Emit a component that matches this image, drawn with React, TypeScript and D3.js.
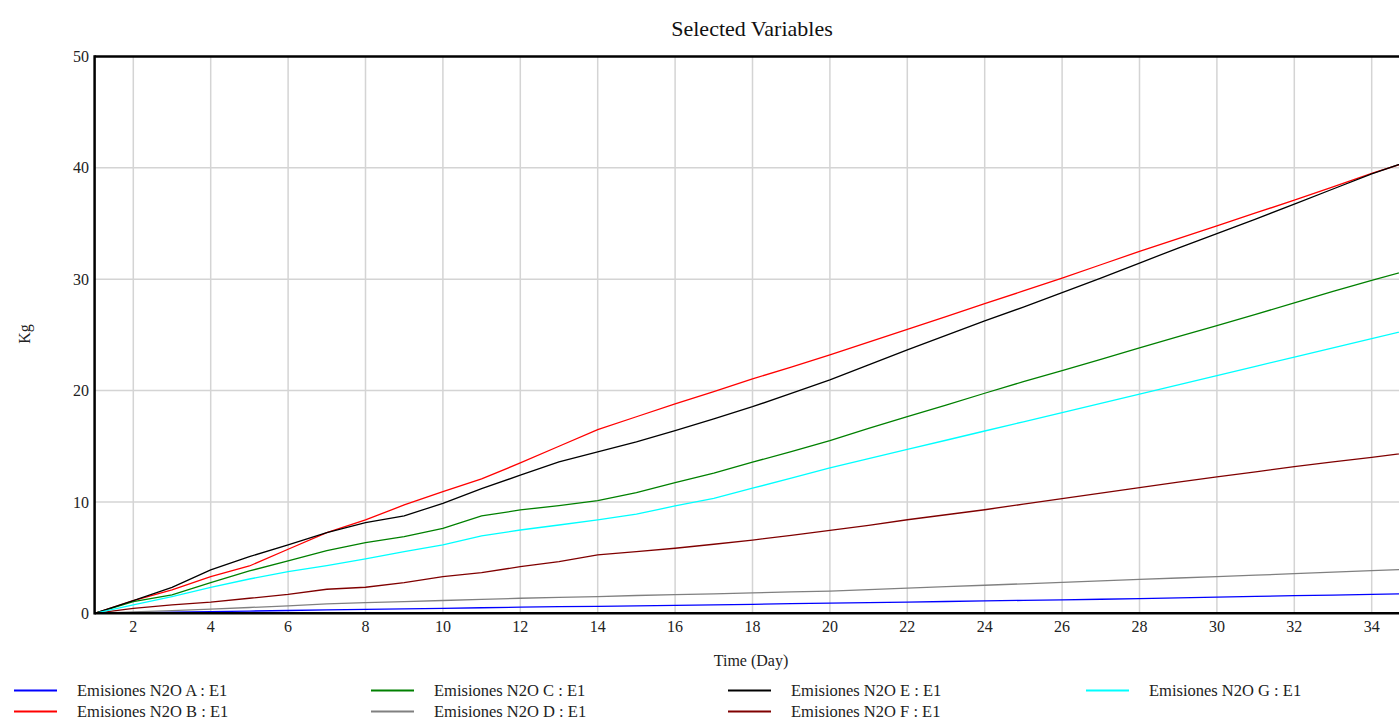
import React from "react";
import * as d3 from "d3";

// Simulation output, one value per day (day 1 .. 35), in Kg
const days: number[] = d3.range(1, 36);

const emisionesA: number[] = [
  0, 0.05, 0.1, 0.15, 0.2, 0.25, 0.3, 0.35, 0.4, 0.45, 0.5, 0.55, 0.6, 0.63, 0.66,
  0.71, 0.76, 0.81, 0.86, 0.91, 0.96, 1.01, 1.06, 1.11, 1.16, 1.21, 1.26, 1.31,
  1.38, 1.46, 1.52, 1.58, 1.64, 1.7, 1.76,
];
const emisionesB: number[] = [
  0, 1.14, 2.1, 3.3, 4.25, 5.75, 7.25, 8.38, 9.73, 10.93, 12.07, 13.5, 15.0, 16.5,
  17.65, 18.8, 19.9, 21.05, 22.1, 23.2, 24.35, 25.5, 26.65, 27.8, 28.95, 30.1,
  31.3, 32.5, 33.65, 34.8, 35.95, 37.1, 38.3, 39.5, 40.6,
];
const emisionesC: number[] = [
  0, 1.05, 1.65, 2.75, 3.8, 4.7, 5.63, 6.35, 6.89, 7.63, 8.74, 9.28, 9.67, 10.12,
  10.84, 11.74, 12.58, 13.57, 14.52, 15.5, 16.6, 17.66, 18.7, 19.76, 20.8, 21.8,
  22.8, 23.84, 24.85, 25.84, 26.85, 27.87, 28.9, 29.9, 30.85,
];
const emisionesD: number[] = [
  0, 0.12, 0.24, 0.37, 0.52, 0.67, 0.85, 0.95, 1.05, 1.15, 1.25, 1.35, 1.43, 1.5,
  1.6, 1.68, 1.75, 1.83, 1.92, 2.0, 2.13, 2.26, 2.39, 2.52, 2.65, 2.78, 2.92, 3.05,
  3.17, 3.29, 3.42, 3.56, 3.7, 3.83, 3.96,
];
const emisionesE: number[] = [
  0, 1.14, 2.33, 3.9, 5.09, 6.14, 7.25, 8.14, 8.74, 9.88, 11.2, 12.4, 13.6, 14.5,
  15.4, 16.4, 17.45, 18.55, 19.75, 20.96, 22.3, 23.65, 24.95, 26.26, 27.5, 28.8,
  30.1, 31.45, 32.8, 34.1, 35.4, 36.75, 38.1, 39.45, 40.65,
];
const emisionesF: number[] = [
  0, 0.45, 0.75, 1.0, 1.35, 1.7, 2.16, 2.34, 2.75, 3.3, 3.65, 4.19, 4.64, 5.24,
  5.54, 5.84, 6.2, 6.58, 7.0, 7.45, 7.9, 8.4, 8.85, 9.3, 9.8, 10.3, 10.8, 11.28,
  11.77, 12.25, 12.7, 13.17, 13.6, 14.0, 14.45,
];
const emisionesG: number[] = [
  0, 0.75, 1.5, 2.33, 3.08, 3.74, 4.28, 4.88, 5.54, 6.14, 6.95, 7.48, 7.93, 8.38,
  8.9, 9.64, 10.33, 11.23, 12.13, 13.05, 13.88, 14.71, 15.54, 16.37, 17.2, 18.03,
  18.86, 19.69, 20.52, 21.35, 22.18, 23.01, 23.84, 24.67, 25.5,
];

const seriesNames: string[] = [
  "Emisiones N2O A : E1",
  "Emisiones N2O B : E1",
  "Emisiones N2O C : E1",
  "Emisiones N2O D : E1",
  "Emisiones N2O E : E1",
  "Emisiones N2O F : E1",
  "Emisiones N2O G : E1",
];
const seriesValues: number[][] = [
  emisionesA,
  emisionesB,
  emisionesC,
  emisionesD,
  emisionesE,
  emisionesF,
  emisionesG,
];
const seriesColors: string[] = [
  "#0000ff",
  "#ff0000",
  "#008000",
  "#808080",
  "#000000",
  "#800000",
  "#00ffff",
];

const xTicks: number[] = d3.range(2, 35, 2);
const yTicks: number[] = [0, 10, 20, 30, 40, 50];

const WIDTH = 1399;
const HEIGHT = 720;
const FONT = "'Liberation Serif', 'Times New Roman', serif";

export default function App() {
  const left = 94.6;
  const top = 56.5;
  const bottom = 613.3;
  const unit = 38.7;

  const x = d3.scaleLinear().domain([1, 35]).range([left, left + 34 * unit]);
  const y = d3.scaleLinear().domain([0, 50]).range([bottom, top]);

  const line = d3
    .line<number>()
    .x((_, i) => x(days[i]))
    .y((v) => y(v));

  const plotRight = WIDTH + 20;

  // legend layout: four columns, two rows
  const legendCols = [14, 371, 728, 1086];
  const legendRows = [690.5, 711.5];
  const legendItems = seriesNames.map((name, i) => ({
    name,
    color: seriesColors[i],
    col: Math.floor(i / 2),
    row: i % 2,
  }));

  return (
    <svg
      width={WIDTH}
      height={HEIGHT}
      style={{ position: "absolute", left: 0, top: 0, background: "#fff" }}
      fontFamily={FONT}
    >
      <defs>
        <clipPath id="plot-clip">
          <rect x={left} y={top} width={plotRight - left} height={bottom - top} />
        </clipPath>
      </defs>

      <rect x={0} y={0} width={WIDTH} height={HEIGHT} fill="#fff" />

      <text x={752} y={36} textAnchor="middle" fontSize={22} fill="#111">
        Selected Variables
      </text>

      {/* grid */}
      <g stroke="#d4d4d4" strokeWidth={1.5}>
        {xTicks.map((t) => (
          <line key={`gx${t}`} x1={x(t)} x2={x(t)} y1={top} y2={bottom} />
        ))}
        {yTicks
          .filter((t) => t > 0 && t < 50)
          .map((t) => (
            <line key={`gy${t}`} x1={left} x2={plotRight} y1={y(t)} y2={y(t)} />
          ))}
      </g>

      {/* series */}
      <g clipPath="url(#plot-clip)" fill="none" strokeWidth={1.3}>
        {seriesValues.map((vals, i) => (
          <path key={seriesNames[i]} d={line(vals) ?? ""} stroke={seriesColors[i]} />
        ))}
      </g>

      {/* frame */}
      <g stroke="#000" strokeWidth={2.5}>
        <line x1={left} x2={plotRight} y1={top} y2={top} />
        <line x1={left} x2={plotRight} y1={bottom} y2={bottom} />
        <line x1={left} x2={left} y1={top - 1.2} y2={bottom + 1.2} />
      </g>

      {/* y tick labels */}
      <g fontSize={16} fill="#222" textAnchor="end">
        {yTicks.map((t) => (
          <text key={`yl${t}`} x={89} y={y(t)} dy="0.35em">
            {t}
          </text>
        ))}
      </g>

      {/* x tick labels */}
      <g fontSize={16} fill="#222" textAnchor="middle">
        {xTicks.map((t) => (
          <text key={`xl${t}`} x={x(t)} y={632}>
            {t}
          </text>
        ))}
      </g>

      <text x={751} y={666} textAnchor="middle" fontSize={16} fill="#222">
        Time (Day)
      </text>
      <text
        transform="translate(30,334) rotate(-90)"
        textAnchor="middle"
        fontSize={16}
        fill="#222"
      >
        Kg
      </text>

      {/* legend */}
      {legendItems.map((it) => {
        const lx = legendCols[it.col];
        const ly = legendRows[it.row];
        return (
          <g key={it.name}>
            <line x1={lx} x2={lx + 43} y1={ly} y2={ly} stroke={it.color} strokeWidth={2} />
            <text x={lx + 63} y={ly} dy="0.33em" fontSize={16.5} fill="#222">
              {it.name}
            </text>
          </g>
        );
      })}
    </svg>
  );
}
